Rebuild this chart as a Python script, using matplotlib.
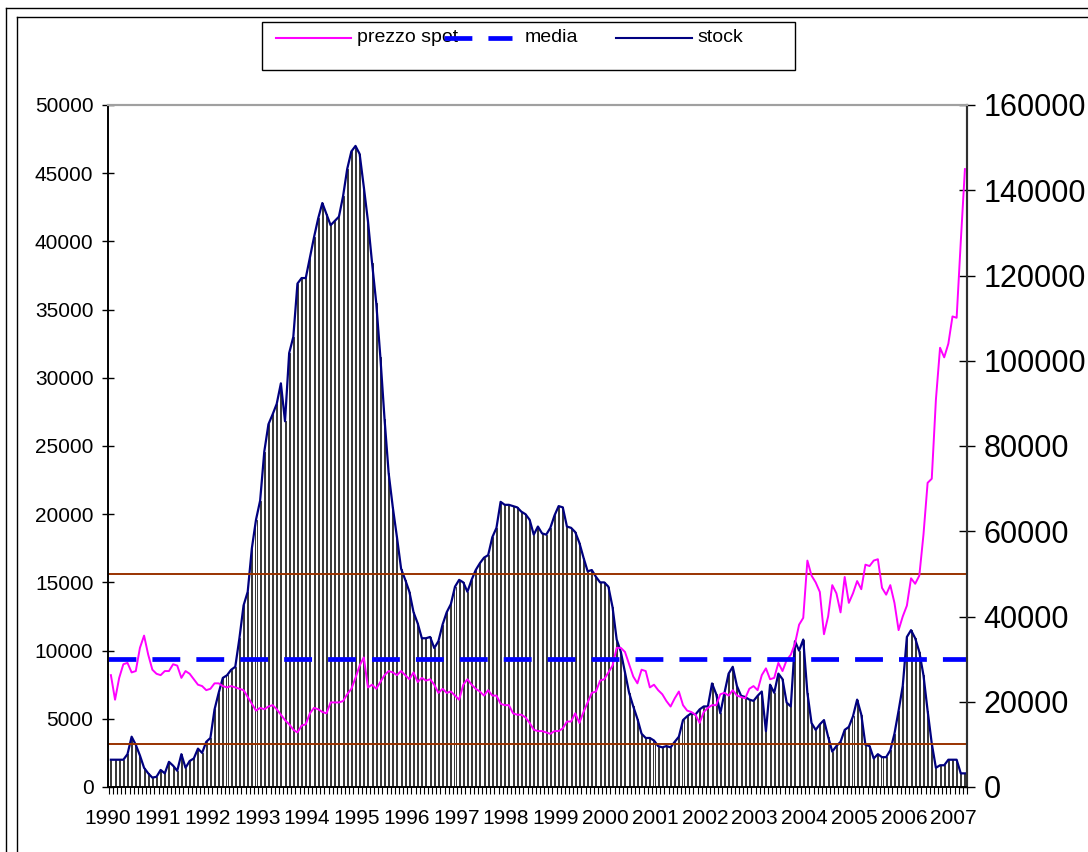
import matplotlib
matplotlib.use("Agg")
import matplotlib.pyplot as plt
from matplotlib.lines import Line2D
from matplotlib.patches import Rectangle
import numpy as np

plt.rcParams['font.family'] = ['Liberation Sans', 'DejaVu Sans']

# dati mensili da gen 1990
anni = [str(a) for a in range(1990, 2008)]

# prezzo spot (asse sinistro)
prezzo_spot = [
    8200, 6400, 8000, 9000, 9100, 8400, 8500, 10200, 11100, 9700, 8600, 8300,
    8200, 8500, 8500, 9000, 8900, 8000, 8500, 8300, 7900, 7500, 7400, 7100,
    7200, 7600, 7600, 7400, 7300, 7400, 7300, 7200, 7100, 6600, 6100, 5600,
    5800, 5700, 5900, 6000, 5700, 5300, 4900, 4600, 4200, 4000, 4500, 4600,
    5400, 5800, 5700, 5500, 5400, 6200, 6200, 6200, 6300, 6800, 7200, 8000,
    8900, 9500, 7300, 7500, 7200, 7700, 8200, 8500, 8400, 8200, 8500, 8200,
    7900, 8400, 7700, 8000, 7800, 7900, 7500, 6900, 7200, 6900, 7000, 6700,
    6400, 7500, 7900, 7500, 7200, 7000, 6700, 7100, 6700, 6700, 6100, 6000,
    6000, 5400, 5300, 5300, 5100, 4700, 4200, 4100, 4100, 4000, 3900, 4100,
    4100, 4300, 4800, 4800, 5400, 4700, 5500, 6200, 6900, 7000, 7800, 7900,
    8400, 8900, 10200, 10200, 9900, 9000, 8100, 7600, 8600, 8500, 7300, 7500,
    7100, 6800, 6300, 5900, 6500, 7000, 6000, 5600, 5500, 5300, 4700, 5500,
    5800, 6000, 6000, 6800, 6900, 6700, 7100, 6700, 6600, 6500, 7200, 7400,
    7100, 8200, 8700, 7900, 8000, 9100, 8500, 9300, 9700, 10500, 11900, 12400,
    16600, 15500, 15000, 14300, 11200, 12500, 14800, 14200, 12800, 15400, 13500, 14200,
    15100, 14500, 16300, 16200, 16600, 16700, 14600, 14100, 14800, 13500, 11500, 12500,
    13300, 15300, 14900, 15500, 18500, 22300, 22600, 28400, 32200, 31500, 32500, 34500,
    34400, 40000, 45300,
]

# stock in tonnellate (asse destro)
stock = [
    6400, 6400, 6400, 6400, 7700, 11800, 9900, 7400, 4500, 3200, 2200, 2400,
    4000, 3200, 5900, 5000, 3800, 7700, 4500, 6100, 6700, 9000, 8000, 10600,
    11500, 18200, 22100, 25600, 26200, 27500, 28200, 34900, 42600, 45800, 56000, 62700,
    67200, 78700, 85100, 87400, 89900, 94700, 85800, 101800, 105600, 118100, 119400, 119400,
    124200, 129000, 133400, 137000, 134400, 131800, 132800, 133800, 138600, 145000, 149100, 150400,
    148500, 140800, 132800, 122900, 113600, 100800, 86400, 73600, 65600, 58600, 51200, 48600,
    45800, 41000, 38400, 34900, 34900, 35200, 32600, 34200, 38100, 41000, 42900, 47000,
    48600, 48000, 45800, 48600, 50900, 52500, 53800, 54400, 58600, 60800, 66900, 66200,
    66200, 65900, 65600, 64600, 64000, 62700, 59200, 61100, 59500, 59200, 60800, 63700,
    65900, 65600, 61100, 60800, 59800, 57300, 53800, 50600, 50900, 49300, 48000, 48000,
    47000, 42200, 34600, 31700, 26900, 22100, 18900, 16000, 12500, 11500, 11500, 10900,
    9600, 9300, 9600, 9300, 10600, 11800, 15700, 16600, 17300, 17000, 18200, 18900,
    18900, 24300, 21800, 17300, 22100, 26600, 28200, 23700, 21400, 21100, 20500, 20200,
    21400, 22400, 13100, 24000, 22100, 26600, 25300, 19800, 18900, 34200, 32000, 34600,
    22100, 15000, 13400, 14700, 15700, 11800, 8300, 9600, 10600, 13400, 14100, 16600,
    20500, 17000, 9900, 9600, 6700, 7700, 7000, 7000, 8600, 12500, 17900, 23700,
    35200, 36800, 34900, 31700, 26200, 17900, 10200, 4500, 5100, 5100, 6400, 6400,
    6400, 3200, 3200,
]

media = 9400
soglie_stock = [10000, 50000]

W, H = 1088, 852
mesi = np.arange(len(stock))
n = len(stock)

fig = plt.figure(figsize=(W / 100, H / 100), dpi=100)
ax = fig.add_axes([108 / W, 1 - 787 / H, 859 / W, 682 / H])
ax2 = ax.twinx()

ax2.bar(mesi, stock, width=0.25, color='white', edgecolor='black', linewidth=0.55)
ax2.plot(mesi, stock, color='#000080', lw=1.6)
for s in soglie_stock:
    ax2.axhline(s, color='#993300', lw=1.4)

ax.plot(mesi, prezzo_spot, color='#FF00FF', lw=1.4)
ax.axhline(media, color='#0000FF', lw=3.4, dashes=(5.9, 3.4))

ax.set_zorder(ax2.get_zorder() + 1)
ax.patch.set_visible(False)

ax.set_xlim(-0.5, n - 0.5)
ax.set_ylim(0, 50000)
ax2.set_ylim(0, 160000)

ax.set_yticks(np.arange(0, 50001, 5000))
ax2.set_yticks(np.arange(0, 160001, 20000))
ax.set_xticks([12 * k - 0.7 for k in range(len(anni))])
ax.set_xticklabels(anni)
ax.set_xticks(np.arange(-0.5, n, 1), minor=True)

ax.tick_params(axis='x', which='major', length=0, pad=16, labelsize=15)
ax.tick_params(axis='x', which='minor', length=5, width=0.8, direction='out')
ax.tick_params(axis='y', direction='inout', length=9, width=1, pad=6, labelsize=15)
ax2.tick_params(axis='y', direction='inout', length=12, width=1, pad=6, labelsize=22)

for a in (ax, ax2):
    a.spines['top'].set_color('#a0a0a0')
    a.spines['top'].set_linewidth(1.5)
    a.spines['left'].set_linewidth(1.2)
    a.spines['bottom'].set_linewidth(1.2)
    a.spines['right'].set_color('#303030')
    a.spines['right'].set_linewidth(1.5)

# legenda
def fx(x):
    return x / W

def fy(y):
    return 1 - y / H

yl = fy(38)
fig.add_artist(Rectangle((fx(262), fy(70)), fx(795) - fx(262), fy(22) - fy(70),
                         transform=fig.transFigure, fill=False, edgecolor='black', lw=1))
fig.add_artist(Line2D([fx(276), fx(351)], [yl, yl], color='#FF00FF', lw=1.5))
fig.text(fx(357), yl, 'prezzo spot', va='center', ha='left', fontsize=14)
fig.add_artist(Line2D([fx(444), fx(512)], [yl, yl], color='#0000FF', lw=3.4,
                      dashes=(5.9, 3.4), zorder=5))
fig.text(fx(525), yl, 'media', va='center', ha='left', fontsize=14)
fig.add_artist(Line2D([fx(616), fx(692)], [yl, yl], color='#000080', lw=1.5))
fig.text(fx(697), yl, 'stock', va='center', ha='left', fontsize=14)

# cornici esterne
fig.add_artist(Line2D([fx(6), fx(6)], [fy(8), 0], color='black', lw=1))
fig.add_artist(Line2D([fx(6), 1], [fy(8), fy(8)], color='black', lw=1))
fig.add_artist(Line2D([fx(17), fx(17)], [fy(17), 0], color='black', lw=1))
fig.add_artist(Line2D([fx(17), 1], [fy(17), fy(17)], color='black', lw=1))

fig.savefig('out.png', dpi=100)
